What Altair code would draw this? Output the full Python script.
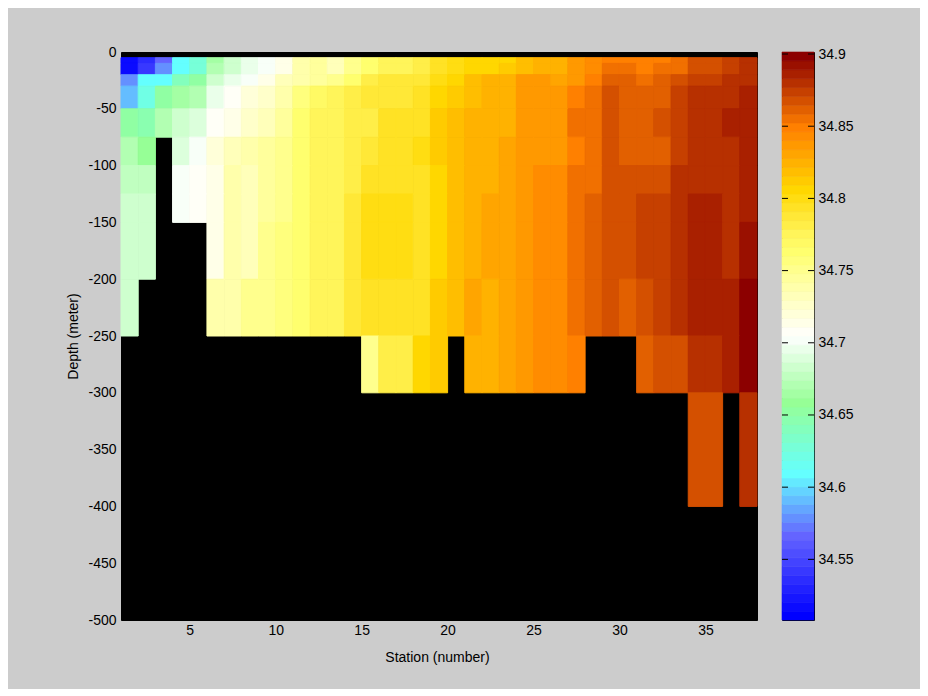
import altair as alt
import numpy as np
import pandas as pd

# depth levels (m) bounding the rows of the section
depth_levels = [5, 10, 20, 30, 50, 75, 100, 125, 150, 200, 250, 300, 400, 500]
N = None
# salinity, as colour-band number (0..63), one list per depth row, stations 1..37
row_5 = [1,4,9,16,19,25,28,30,31,33,37,38,36,39,41,43,43,44,46,47,48,48,48,50,51,51,53,54,55,55,55,55,56,58,58,59,60]
row_10 = [1,5,11,16,19,26,28,30,31,33,37,38,36,39,41,43,43,44,46,47,48,48,49,50,51,51,53,54,56,56,55,56,56,58,58,59,60]
row_20 = [11,16,16,21,23,28,30,31,33,36,37,38,39,41,44,45,45,45,47,48,50,51,51,53,53,52,53,55,57,57,56,57,58,59,59,60,60]
row_30 = [13,18,23,25,26,30,32,34,35,37,40,42,43,44,45,45,45,46,48,49,50,51,51,53,53,53,55,56,58,57,57,57,59,60,60,60,61]
row_50 = [23,22,26,28,29,32,33,35,36,38,41,43,43,44,44,46,46,46,49,50,51,51,51,53,53,53,56,56,58,57,57,58,59,60,60,61,61]
row_75 = [26,24,N,29,31,34,36,37,38,39,41,43,43,44,45,46,46,47,49,50,51,51,52,53,53,53,55,56,58,57,57,57,59,60,60,60,61]
row_100 = [27,27,N,31,32,33,37,36,38,39,41,43,43,44,46,46,46,46,48,50,51,51,52,53,54,54,56,56,58,58,58,58,60,60,60,60,61]
row_125 = [28,28,N,31,32,33,37,36,38,39,41,43,43,45,47,47,47,46,48,50,51,52,52,53,54,54,56,57,58,58,59,59,60,61,61,60,61]
row_150 = [28,28,N,N,N,33,37,36,39,40,41,43,43,45,47,47,47,46,48,50,51,52,52,53,54,54,56,57,58,58,59,59,60,61,61,60,62]
row_200 = [28,N,N,N,N,37,37,39,39,40,41,43,43,45,46,46,46,46,49,50,52,51,52,53,54,54,56,57,58,57,58,59,60,61,61,61,63]
row_250 = [N,N,N,N,N,N,N,N,N,N,N,N,N,N,39,44,44,48,49,N,51,51,52,53,54,54,55,N,N,N,57,58,58,60,60,61,63]
row_300 = [N]*33 + [58,58,N,60]
row_400 = [N]*37
rows = [row_5,row_10,row_20,row_30,row_50,row_75,row_100,row_125,row_150,row_200,row_250,row_300,row_400]

LO, HI = 34.508, 34.9014
STEP = (HI-LO)/64
x_ticks = [5,10,15,20,25,30,35]
y_ticks = [-500,-450,-400,-350,-300,-250,-200,-150,-100,-50,0]
cbar_ticks = [34.55,34.6,34.65,34.7,34.75,34.8,34.85,34.9]

# colormap: anchors of the 64-band palette seen on the colour bar
anchor_pos = [0,9,16,24,31.5,41,43,45,48,55,63]
anchor_rgb = [(0,0,255),(100,100,255),(100,255,255),(150,255,150),(255,255,255),(255,255,110),(255,245,90),(255,232,55),(255,215,0),(255,128,0),(140,0,0)]
palette = ["#%02x%02x%02x" % tuple(int(round(np.interp(i,anchor_pos,[c[k] for c in anchor_rgb]))) for k in range(3)) for i in range(64)]

recs = []
for r,row in enumerate(rows):
    for s,lev in enumerate(row):
        if lev is None: continue
        recs.append(dict(x=s+1,x2=s+2,y=-depth_levels[r],y2=-depth_levels[r+1],value=LO+(lev+.5)*STEP))
df = pd.DataFrame(recs)
cb = pd.DataFrame([dict(y=LO+i*STEP,y2=LO+(i+1)*STEP,value=LO+(i+.5)*STEP) for i in range(64)])
tk = pd.DataFrame(dict(t=cbar_ticks))

FONT="Liberation Sans"
cs = alt.Scale(type="quantize",domain=[LO,HI],range=palette,nice=False)
main = alt.Chart(df).mark_rect(strokeWidth=1,opacity=1).encode(
    x=alt.X("x:Q",scale=alt.Scale(domain=[1,38],nice=False,zero=False),
            axis=alt.Axis(values=x_ticks,title="Station (number)",format="d",grid=False,ticks=False,domain=False,
                          labelPadding=3,titlePadding=13,labelFlush=False,titleX=316)),
    x2="x2:Q",
    y=alt.Y("y:Q",scale=alt.Scale(domain=[-500,0],nice=False,zero=False),
            axis=alt.Axis(values=y_ticks,title="Depth (meter)",grid=False,ticks=False,domain=False,
                          labelPadding=5,titlePadding=7,labelExpr="''+datum.value")),
    y2="y2:Q",
    color=alt.Color("value:Q",scale=cs,legend=None),
    stroke=alt.Stroke("value:Q",scale=cs,legend=None),
).properties(width=636,height=568,view=alt.ViewConfig(fill="black",stroke="black",strokeWidth=1))

cb_y = dict(scale=alt.Scale(domain=[LO,HI],nice=False,zero=False),
            axis=alt.Axis(values=cbar_ticks,title=None,orient="right",format=".2~f",grid=False,ticks=False,domain=False,labelPadding=4))
bar = alt.Chart(cb).mark_rect(strokeWidth=0.6).encode(
    x=alt.value(0),x2=alt.value(32),
    y=alt.Y("y:Q",**cb_y),y2="y2:Q",
    color=alt.Color("value:Q",scale=cs,legend=None),
    stroke=alt.Stroke("value:Q",scale=cs,legend=None))
tl = alt.Chart(tk).mark_rule(color="black",strokeWidth=1).encode(x=alt.value(0),x2=alt.value(6),y=alt.Y("t:Q",**cb_y))
tr = alt.Chart(tk).mark_rule(color="black",strokeWidth=1).encode(x=alt.value(26),x2=alt.value(32),y=alt.Y("t:Q",**cb_y))
cbar = alt.layer(bar,tl,tr).properties(width=32,height=568,view=alt.ViewConfig(fill=None,stroke="black",strokeWidth=1))

chart = alt.hconcat(main,cbar,spacing=23).properties(
    background="#cccccc",padding={"left":58,"top":36,"right":66,"bottom":24}
).configure_axis(labelFont=FONT,titleFont=FONT,labelFontSize=14,titleFontSize=14,labelColor="black",titleColor="black",titleFontWeight="normal"
).configure_concat(spacing=23)

chart.save("out.html", embed_options={"renderer": "svg", "actions": False})
